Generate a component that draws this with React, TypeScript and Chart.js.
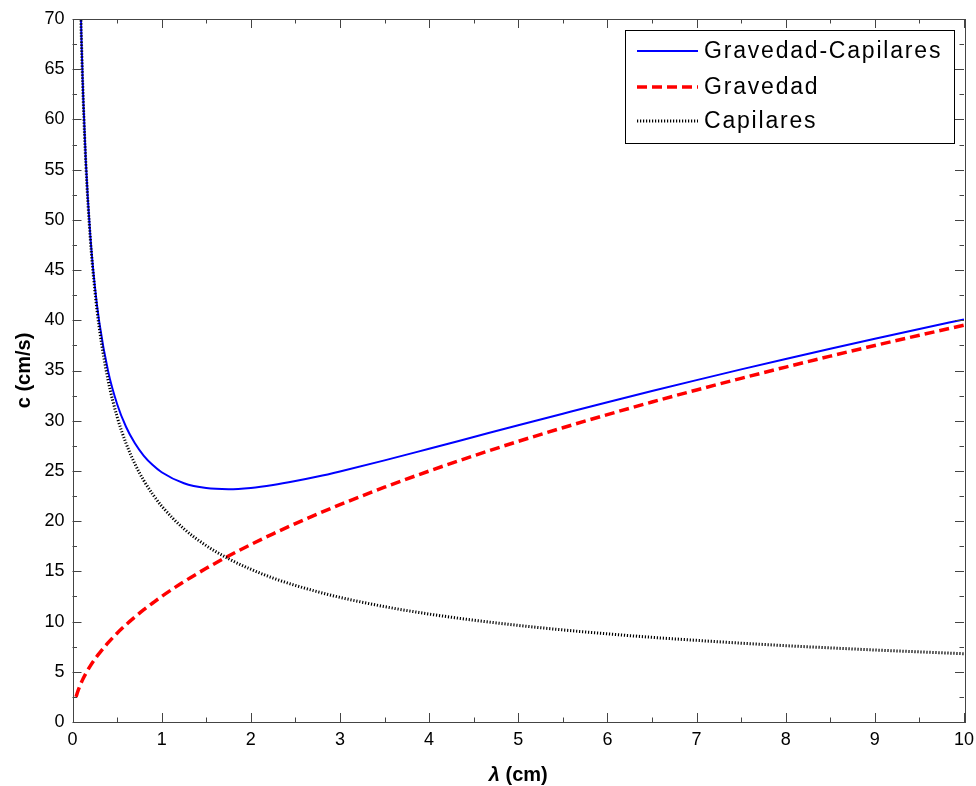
import React, { useEffect, useRef } from 'react';
import { Chart, registerables } from 'chart.js';

Chart.register(...registerables);

// wavelength λ (cm)
const lambdaCm = [0.04, 0.06, 0.08, 0.1, 0.12, 0.15, 0.2, 0.25, 0.3, 0.4, 0.5, 0.6, 0.7, 0.8, 0.9, 1.0, 1.25, 1.5, 1.75, 2, 2.25, 2.5, 2.75, 3, 3.5, 4, 4.5, 5, 5.5, 6, 6.5, 7, 7.5, 8, 8.5, 9, 9.5, 10];
// phase speed c (cm/s)
const gravCap = [107.5, 87.84, 76.11, 68.11, 62.23, 55.73, 48.41, 43.46, 39.85, 34.91, 31.67, 29.4, 27.75, 26.51, 25.58, 24.87, 23.77, 23.29, 23.18, 23.31, 23.6, 23.99, 24.44, 24.95, 26.05, 27.21, 28.38, 29.55, 30.7, 31.84, 32.95, 34.04, 35.11, 36.15, 37.17, 38.17, 39.14, 40.09];
const grav = [2.5, 3.06, 3.53, 3.95, 4.33, 4.84, 5.59, 6.25, 6.84, 7.9, 8.84, 9.68, 10.45, 11.18, 11.85, 12.5, 13.97, 15.3, 16.53, 17.67, 18.74, 19.76, 20.72, 21.64, 23.38, 24.99, 26.51, 27.94, 29.3, 30.61, 31.86, 33.06, 34.22, 35.34, 36.43, 37.49, 38.51, 39.51];
const capil = [107.5, 87.79, 76.03, 68.0, 62.07, 55.52, 48.08, 43.01, 39.26, 34.0, 30.41, 27.76, 25.7, 24.04, 22.67, 21.5, 19.23, 17.56, 16.26, 15.21, 14.33, 13.6, 12.97, 12.41, 11.49, 10.75, 10.14, 9.62, 9.17, 8.78, 8.43, 8.13, 7.85, 7.6, 7.38, 7.17, 6.98, 6.8];

const seriesLabels = ['Gravedad-Capilares', 'Gravedad', 'Capilares'];
const xTicks = [0, 1, 2, 3, 4, 5, 6, 7, 8, 9, 10];
const yTicks = [0, 5, 10, 15, 20, 25, 30, 35, 40, 45, 50, 55, 60, 65, 70];
const xTitleSym = 'λ';
const xTitleRest = ' (cm)';
const yTitle = 'c (cm/s)';

const FONT = "'Liberation Sans', Arial, Helvetica, sans-serif";

const styles = [
  { color: '#0000ff', width: 2, dash: [] as number[] },
  { color: '#ff0000', width: 3.5, dash: [10, 5] },
  { color: '#000000', width: 3, dash: [1.2, 1.8] },
];

const framePlugin = {
  id: 'frameTicks',
  afterDatasetsDraw(chart: any) {
    const { ctx, chartArea: a, scales } = chart;
    const x = scales.x;
    const y = scales.y;
    ctx.save();
    ctx.strokeStyle = '#444';
    ctx.lineWidth = 1;
    ctx.setLineDash([]);
    ctx.beginPath();
    const xs: [number, boolean][] = [];
    xTicks.forEach((v, i) => {
      xs.push([v, true]);
      if (i < xTicks.length - 1) xs.push([(v + xTicks[i + 1]) / 2, false]);
    });
    xs.forEach(([v, major]) => {
      const px = Math.round(x.getPixelForValue(v)) + 0.5;
      const len = major ? 9 : 4.5;
      ctx.moveTo(px, a.bottom);
      ctx.lineTo(px, a.bottom - len);
      ctx.moveTo(px, a.top);
      ctx.lineTo(px, a.top + len);
    });
    const ys: [number, boolean][] = [];
    yTicks.forEach((v, i) => {
      ys.push([v, true]);
      if (i < yTicks.length - 1) ys.push([(v + yTicks[i + 1]) / 2, false]);
    });
    ys.forEach(([v, major]) => {
      const py = Math.round(y.getPixelForValue(v)) + 0.5;
      const len = major ? 9 : 4.5;
      ctx.moveTo(a.left, py);
      ctx.lineTo(a.left + len, py);
      ctx.moveTo(a.right, py);
      ctx.lineTo(a.right - len, py);
    });
    ctx.stroke();
    ctx.strokeRect(Math.round(a.left) + 0.5, Math.round(a.top) + 0.5, Math.round(a.right - a.left), Math.round(a.bottom - a.top));
    ctx.restore();
  },
  afterDraw(chart: any) {
    const { ctx, chartArea: a } = chart;
    ctx.save();
    // Legend
    const bx = 625.5, by = 30.5, bw = 329, bh = 113;
    ctx.fillStyle = '#ffffff';
    ctx.fillRect(bx, by, bw, bh);
    ctx.strokeStyle = '#000';
    ctx.lineWidth = 1;
    ctx.setLineDash([]);
    ctx.strokeRect(bx, by, bw, bh);
    const rowsY = [51, 87, 121];
    seriesLabels.forEach((lab, i) => {
      const s = styles[i];
      ctx.beginPath();
      ctx.strokeStyle = s.color;
      ctx.lineWidth = s.width;
      ctx.setLineDash(s.dash);
      ctx.moveTo(637, rowsY[i]);
      ctx.lineTo(698, rowsY[i]);
      ctx.stroke();
      ctx.setLineDash([]);
      ctx.fillStyle = '#000';
      ctx.font = `23px ${FONT}`;
      (ctx as any).letterSpacing = '1.8px';
      ctx.textAlign = 'left';
      ctx.textBaseline = 'middle';
      ctx.fillText(lab, 704, rowsY[i] + 1);
      (ctx as any).letterSpacing = '0px';
    });
    // X title
    ctx.fillStyle = '#000';
    ctx.textBaseline = 'middle';
    ctx.textAlign = 'left';
    const f1 = `italic bold 20px ${FONT}`;
    const f2 = `bold 20px ${FONT}`;
    ctx.font = f1;
    const w1 = ctx.measureText(xTitleSym).width;
    ctx.font = f2;
    const w2 = ctx.measureText(xTitleRest).width;
    const cx = (a.left + a.right) / 2;
    const startX = cx - (w1 + w2) / 2;
    ctx.font = f1;
    ctx.fillText(xTitleSym, startX, 775);
    ctx.font = f2;
    ctx.fillText(xTitleRest, startX + w1, 775);
    // Y title
    ctx.translate(24, (a.top + a.bottom) / 2);
    ctx.rotate(-Math.PI / 2);
    ctx.textAlign = 'center';
    ctx.font = f2;
    ctx.fillText(yTitle, 0, 0);
    ctx.restore();
  },
};

export default function App() {
  const ref = useRef<HTMLCanvasElement | null>(null);
  useEffect(() => {
    if (!ref.current) return;
    const mk = (vals: number[]) => lambdaCm.map((l, i) => ({ x: l, y: vals[i] }));
    const series = [gravCap, grav, capil];
    const orders = [1, 2, 0];
    const chart = new Chart(ref.current, {
      type: 'line',
      data: {
        datasets: series.map((vals, i) => ({
          label: seriesLabels[i],
          data: mk(vals),
          borderColor: styles[i].color,
          borderWidth: styles[i].width,
          borderDash: styles[i].dash,
          pointRadius: 0,
          fill: false,
          cubicInterpolationMode: 'monotone' as const,
          order: orders[i],
        })),
      },
      options: {
        responsive: false,
        devicePixelRatio: 1,
        animation: false,
        layout: { padding: { left: 0, top: 19, right: 12, bottom: 0 } },
        plugins: { legend: { display: false }, tooltip: { enabled: false } },
        scales: {
          x: {
            type: 'linear',
            min: 0,
            max: 10,
            afterFit: (s: any) => { s.height = 64; s.paddingLeft = 0; s.paddingRight = 0; },
            afterBuildTicks: (s: any) => { s.ticks = xTicks.map((v) => ({ value: v })); },
            grid: { display: false, drawTicks: false },
            border: { display: false },
            ticks: { color: '#000', font: { family: FONT, size: 18 }, padding: 7, maxRotation: 0 },
          },
          y: {
            type: 'linear',
            min: 0,
            max: 70,
            afterFit: (s: any) => { s.width = 72.5; s.paddingTop = 0; s.paddingBottom = 0; },
            afterBuildTicks: (s: any) => { s.ticks = yTicks.map((v) => ({ value: v })); },
            grid: { display: false, drawTicks: false },
            border: { display: false },
            ticks: { color: '#000', font: { family: FONT, size: 18 }, padding: 8 },
          },
        },
      },
      plugins: [framePlugin],
    } as any);
    return () => chart.destroy();
  }, []);
  return (
    <div style={{ position: 'fixed', left: 0, top: 0, width: 976, height: 786, background: '#fff' }}>
      <canvas ref={ref} width={976} height={786} style={{ display: 'block' }} />
    </div>
  );
}
